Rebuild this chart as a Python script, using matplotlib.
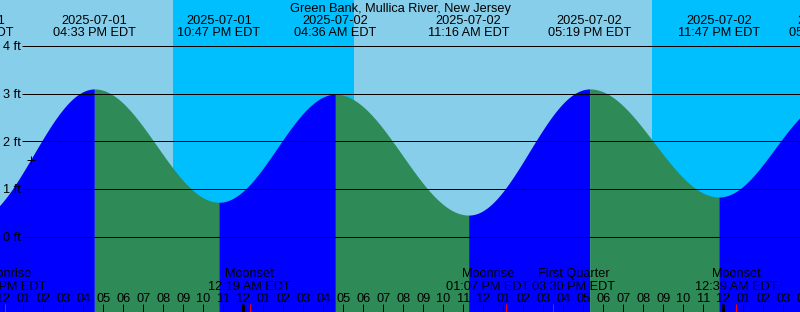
import matplotlib
matplotlib.use("Agg")
import matplotlib.pyplot as plt
import numpy as np
from datetime import datetime

plt.rcParams['font.family'] = ['Liberation Sans', 'DejaVu Sans']

# ---------------- data ----------------
title = "Green Bank, Mullica River, New Jersey"

tide_dates = ["2025-07-01", "2025-07-01", "2025-07-01", "2025-07-02",
              "2025-07-02", "2025-07-02", "2025-07-02", "2025-07-03"]
tide_times = ["10:28 AM", "04:33 PM", "10:47 PM", "04:36 AM",
              "11:16 AM", "05:19 PM", "11:47 PM", "05:22 AM"]
tide_heights = [0.33, 3.10, 0.72, 2.99, 0.45, 3.10, 0.83, 2.85]

sun_dates = ["2025-07-01", "2025-07-02", "2025-07-02"]
sun_times = ["08:29 PM", "05:32 AM", "08:26 PM"]
sun_kinds = ["set", "rise", "set"]

moon_events = ["Moonrise", "Moonset", "Moonrise", "First Quarter", "Moonset"]
moon_dates = ["2025-07-01", "2025-07-02", "2025-07-02", "2025-07-02", "2025-07-03"]
moon_times = ["12:05 PM", "12:19 AM", "01:07 PM", "03:30 PM", "12:39 AM"]

y_levels = [0, 1, 2, 3, 4]
now_date, now_time = "2025-07-01", "01:22 PM"
view_start_date, view_start_time = "2025-07-01", "11:50 AM"
view_hours = 40

# label nudges (pixels) to keep neighbouring moon labels apart
moon_label_shift_px = [0, 0, -18, 20, 0]

# ---------------- helpers ----------------
BASE = datetime(2025, 7, 1)


def hours(d, t):
    dt = datetime.strptime(d + " " + t, "%Y-%m-%d %I:%M %p")
    return (dt - BASE).total_seconds() / 3600.0


W, H = 800, 312
ZERO_PX = 236.5
PX_PER_FT = 47.6
PX_PER_HOUR = 20.0
FS = 9.2


def ft(ypx):
    return (ZERO_PX - ypx) / PX_PER_FT


t0 = hours(view_start_date, view_start_time)
t1 = t0 + view_hours


def tx(xpx):
    return t0 + xpx / PX_PER_HOUR


T = np.array([hours(d, t) for d, t in zip(tide_dates, tide_times)])
Hh = np.array(tide_heights)


def tide_curve(ts):
    out = np.empty_like(ts)
    for k, t in enumerate(ts):
        i = np.clip(np.searchsorted(T, t) - 1, 0, len(T) - 2)
        f = (t - T[i]) / (T[i + 1] - T[i])
        out[k] = Hh[i] + (Hh[i + 1] - Hh[i]) * (1 - np.cos(np.pi * f)) / 2
    return out


# ---------------- figure ----------------
fig = plt.figure(figsize=(W / 100, H / 100), dpi=100)
ax = fig.add_axes([0, 0, 1, 1])
ax.set_xlim(t0, t1)
ax.set_ylim(ft(H), ft(0))
ax.axis("off")

DAY, NIGHT = "#87CEEB", "#00BFFF"
RISE, FALL = "#0000FF", "#2E8B57"

# day / night background
S = [hours(d, t) for d, t in zip(sun_dates, sun_times)]
edges = [t0] + S + [t1]
state_day = sun_kinds[0] == "set"
for a, b in zip(edges[:-1], edges[1:]):
    ax.axvspan(a, b, color=DAY if state_day else NIGHT, lw=0, zorder=0)
    state_day = not state_day

# tide fill
ybot = ft(H)
for i in range(len(T) - 1):
    a, b = max(T[i], t0 - 1), min(T[i + 1], t1 + 1)
    if b <= a:
        continue
    ts = np.linspace(a, b, 400)
    hs = tide_curve(ts)
    col = RISE if Hh[i + 1] > Hh[i] else FALL
    ax.fill_between(ts, hs, ybot, color=col, lw=0, zorder=1)

# level lines and labels
px = 0.72
ax.hlines(y_levels, tx(22), t1, color="black", lw=1 * px, zorder=3)
for lv in y_levels:
    ax.text(tx(20.5), lv - 4.3 / PX_PER_FT, f"{lv} ft", ha="right", va="baseline",
            fontsize=FS, zorder=4)

# now marker
tn = hours(now_date, now_time)
hn = tide_curve(np.array([tn]))[0]
ax.plot([tn], [hn], marker="+", ms=8 * px, mew=1 * px, color="black", zorder=4)

# title
ax.text((t0 + t1) / 2, ft(12.3), title, ha="center", va="baseline", fontsize=FS, zorder=5)

# tide extreme labels
for d, t, tt in zip(tide_dates, tide_times, T):
    ax.text(tt, ft(24.2), d, ha="center", va="baseline", fontsize=FS, zorder=5)
    ax.text(tt, ft(36.2), t + " EDT", ha="center", va="baseline", fontsize=FS, zorder=5)

# moon labels
for ev, d, t, sh in zip(moon_events, moon_dates, moon_times, moon_label_shift_px):
    tm = hours(d, t)
    xl = tm + sh / PX_PER_HOUR
    ax.text(xl, ft(277), ev, ha="center", va="baseline", fontsize=FS, zorder=5)
    ax.text(xl, ft(290), t + " EDT", ha="center", va="baseline", fontsize=FS, zorder=5)
    ax.vlines(tm, ft(304), ft(H), color="#FF0000", lw=1 * px, zorder=6)

# hour labels and ticks
for hr in range(int(np.floor(t0)), int(np.ceil(t1)) + 1):
    lab = f"{(hr % 12) or 12:02d}"
    ax.text(hr, ft(301.7), lab, ha="center", va="baseline", fontsize=FS, zorder=5)
    thick = hr % 24 == 0
    ax.vlines(hr, ft(304), ft(H), color="black", lw=(3 if thick else 1) * px, zorder=5)

fig.savefig("out.png", dpi=100)
